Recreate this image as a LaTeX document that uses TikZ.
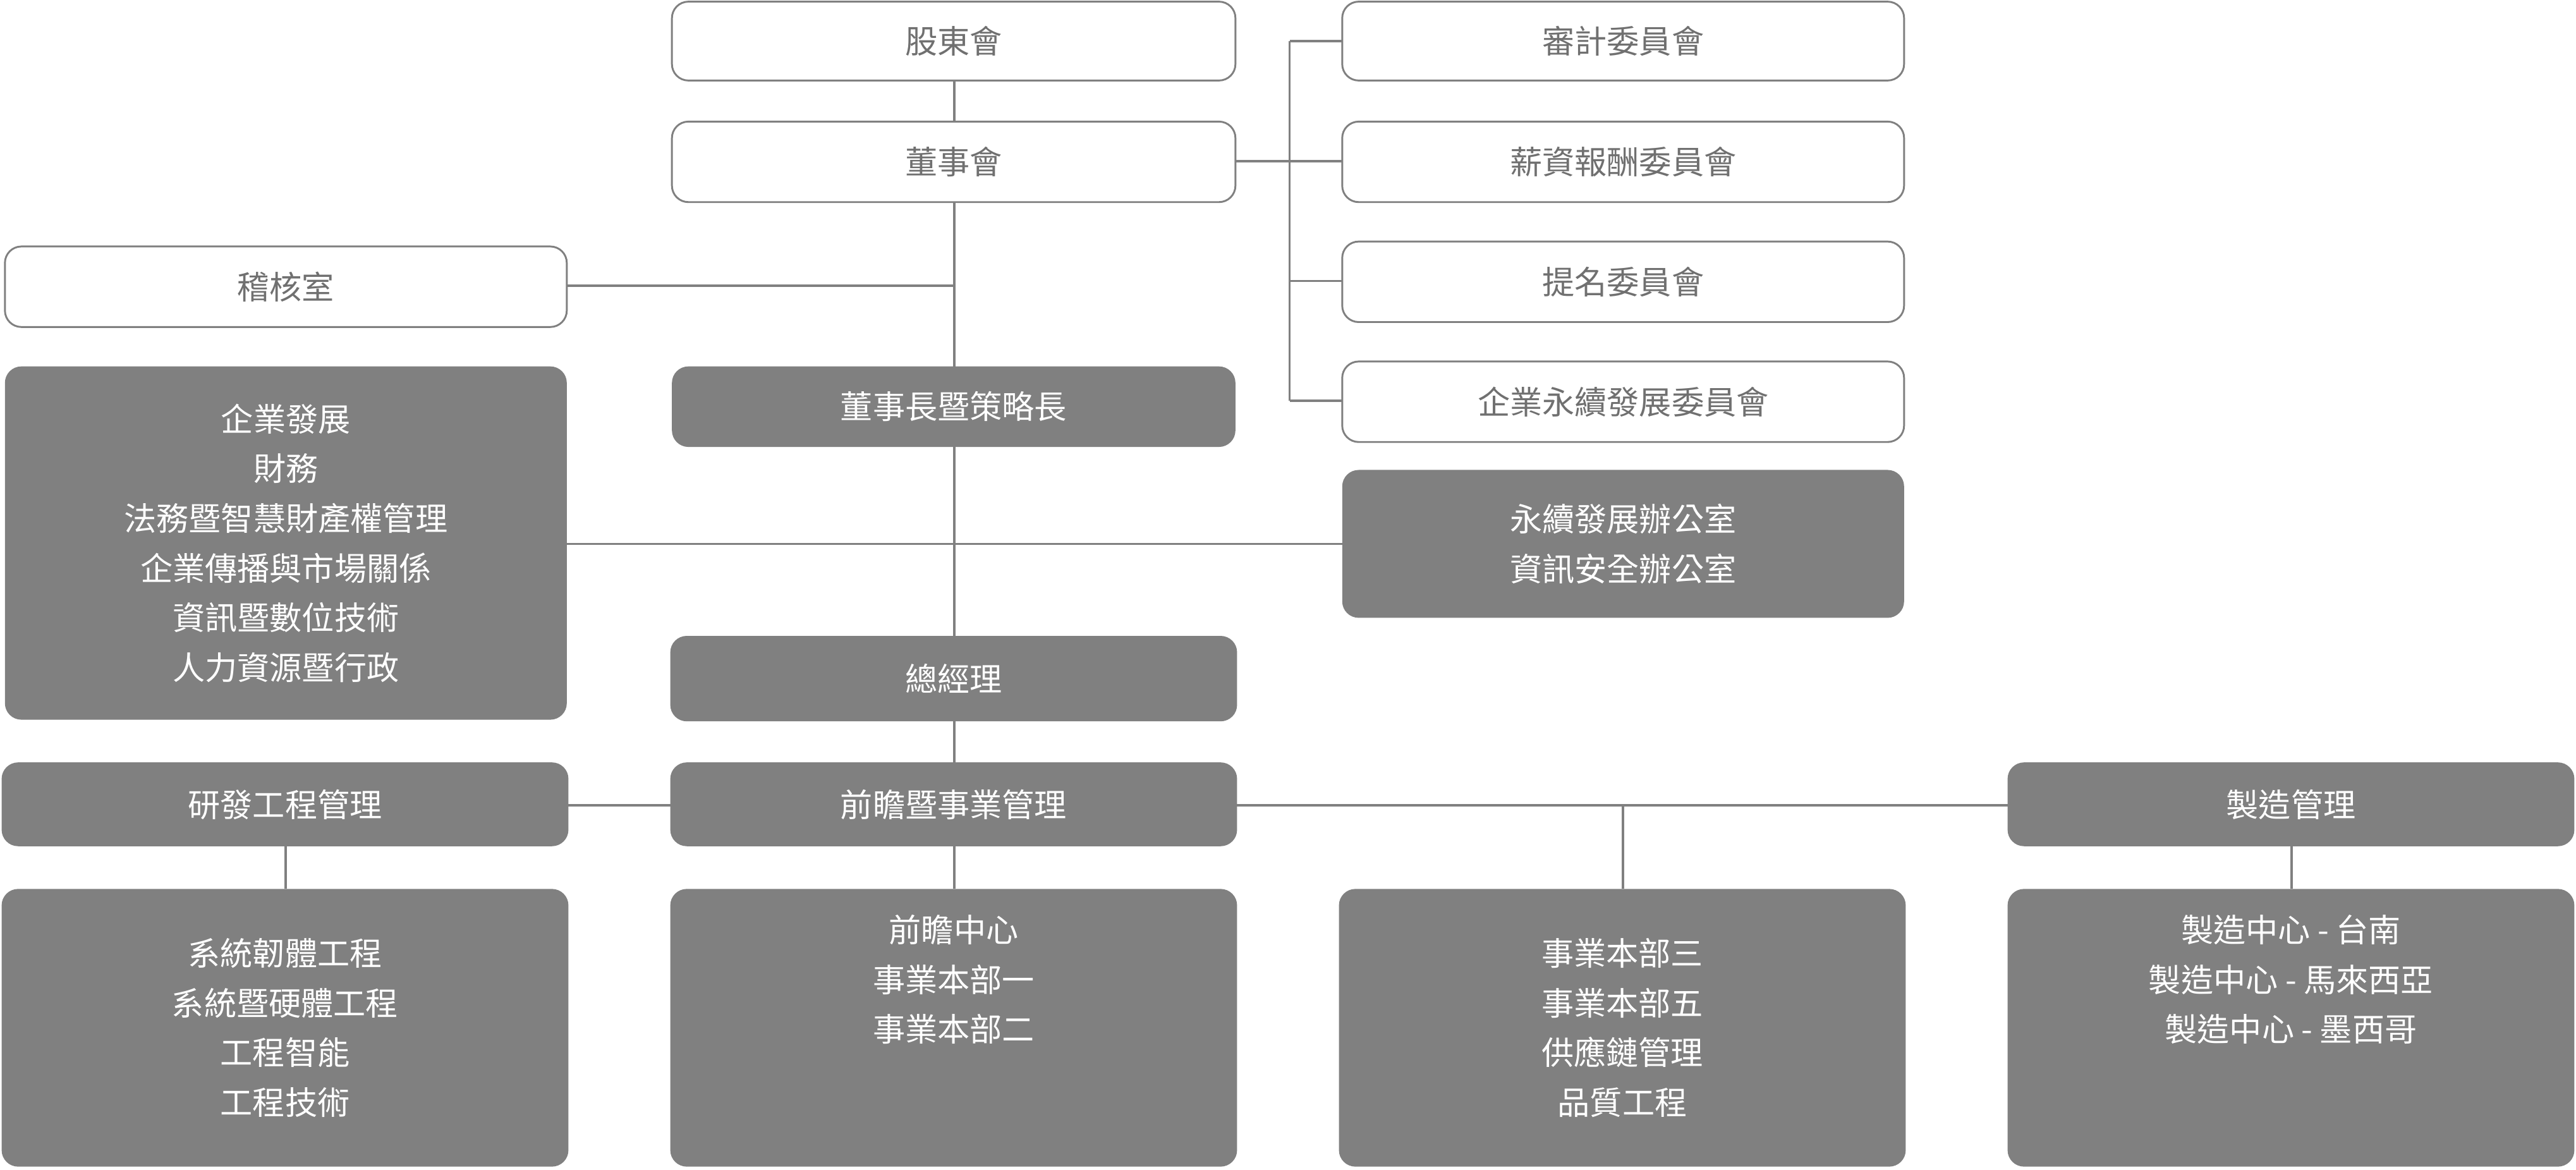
\documentclass[tikz,border=0pt]{standalone}
\usepackage{fontspec}
\setmainfont{Noto Sans CJK TC}
\usetikzlibrary{positioning}
\definecolor{boxgray}{HTML}{808080}
\definecolor{textgray}{HTML}{707070}
\tikzset{
    x=0.025cm, y=-0.025cm,
    every node/.style={font=\fontsize{14}{21.5}\selectfont, align=center, rounded corners=0.25cm, inner sep=0pt},
    plain/.style={draw=boxgray, line width=0.8pt, fill=white, text=textgray}, % white boxes
    solid box/.style={fill=boxgray, text=white}, % filled boxes
    link/.style={draw=boxgray, line width=1pt},
}
\newcommand{\wbox}[6][plain]{\node[#1, minimum width=#4*0.025cm, minimum height=#5*0.025cm] (#2) at (#3) {#6};}
\begin{document}
\begin{tikzpicture}
\useasboundingbox (0,0) rectangle (1568,712);
% connectors first
\draw[link] (581,49) -- (581,541);
\draw[link] (752,98) -- (785,98);
\draw[link] (785,25) -- (785,244);
\foreach \yy in {25,98,171,244} \draw[link] (785,\yy) -- (817,\yy);
\draw[link] (345,174) -- (581,174);
\draw[link] (345,331) -- (817,331);
\draw[link] (346,490) -- (1222,490);
\draw[link] (988,490) -- (988,541);
\draw[link] (174,515) -- (174,541);
\draw[link] (1395,515) -- (1395,541);
% top
\wbox{share}{580.5,25}{343}{48}{股東會}
\wbox{board}{580.5,98.5}{343}{49}{董事會}
\wbox{audit}{988,25}{342}{48}{審計委員會}
\wbox{pay}{988,98.5}{342}{49}{薪資報酬委員會}
\wbox{nom}{988,171.5}{342}{49}{提名委員會}
\wbox{esg}{988,244.5}{342}{49}{企業永續發展委員會}
\wbox{internal}{174,174.5}{342}{49}{稽核室}
\wbox[solid box]{chair}{580.5,247.5}{343}{49}{董事長暨策略長}
\wbox[solid box]{corp}{174,330.5}{342}{215}{企業發展\\財務\\法務暨智慧財產權管理\\企業傳播與市場關係\\資訊暨數位技術\\人力資源暨行政}
\wbox[solid box]{office}{988,331}{342}{90}{永續發展辦公室\\資訊安全辦公室}
\wbox[solid box]{gm}{580.5,413}{345}{52}{總經理}
% management row
\wbox[solid box]{rd}{173.5,489.5}{345}{51}{研發工程管理}
\wbox[solid box]{bu}{580.5,489.5}{345}{51}{前瞻暨事業管理}
\wbox[solid box]{mfg}{1394.5,489.5}{345}{51}{製造管理}
% bottom
\wbox[solid box]{rdsub}{173.5,625.5}{345}{169}{系統韌體工程\\系統暨硬體工程\\工程智能\\工程技術}
\wbox[solid box]{busub}{580.5,625.5}{345}{169}{前瞻中心\\事業本部一\\事業本部二\\[21.5pt]}
\wbox[solid box]{opsub}{987.5,625.5}{345}{169}{事業本部三\\事業本部五\\供應鏈管理\\品質工程}
\wbox[solid box]{mfgsub}{1394.5,625.5}{345}{169}{製造中心 - 台南\\製造中心 - 馬來西亞\\製造中心 - 墨西哥\\[21.5pt]}
\end{tikzpicture}
\end{document}
